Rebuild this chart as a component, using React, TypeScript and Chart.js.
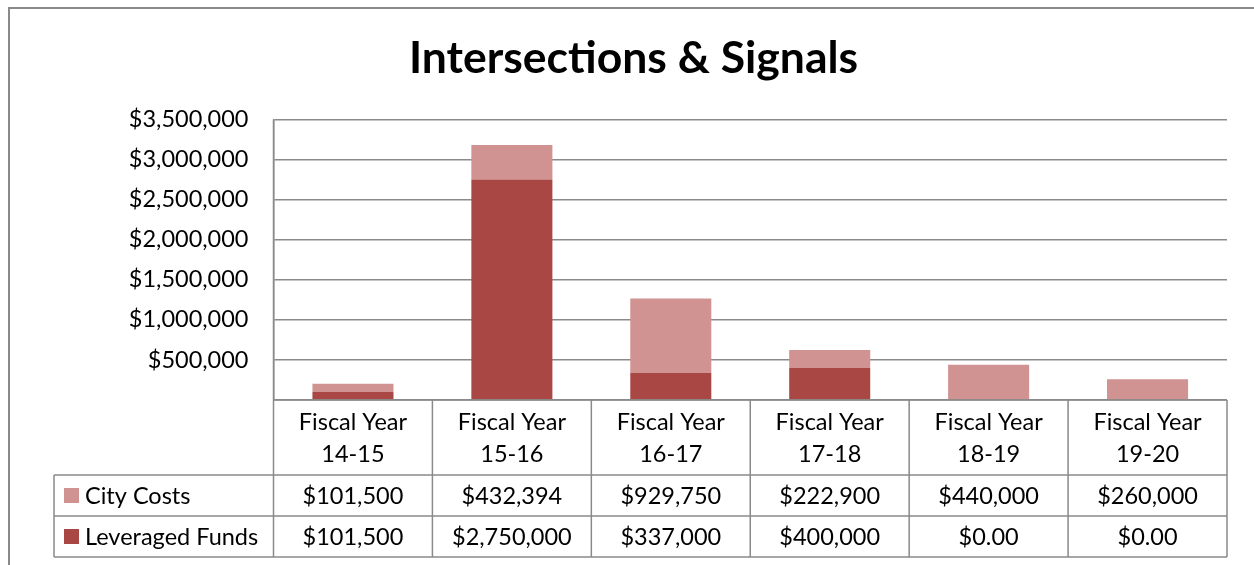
import React, { useEffect, useRef } from 'react';
import { Chart, registerables } from 'chart.js';

Chart.register(...registerables);

const chartTitle = 'Intersections & Signals';
const categoryLine1 = ['Fiscal Year', 'Fiscal Year', 'Fiscal Year', 'Fiscal Year', 'Fiscal Year', 'Fiscal Year'];
const categoryLine2 = ['14-15', '15-16', '16-17', '17-18', '18-19', '19-20'];
const seriesNames = ['City Costs', 'Leveraged Funds'];
const cityCosts = [101500, 432394, 929750, 222900, 440000, 260000];
const leveragedFunds = [101500, 2750000, 337000, 400000, 0, 0];
const yMax = 3500000;
const yStep = 500000;

const cityColor = 'rgb(209,146,146)';
const leveragedColor = 'rgb(169,71,69)';
const lineColor = '#8a8a8a';
const FONT = 'Lato';
const FONT_SIZE = 23.5;
const TITLE_SIZE = 44.5;

const fmtMoney = (v: number) =>
  v === 0 ? '$0.00' : '$' + v.toLocaleString('en-US');

const tablePlugin = {
  id: 'dataTable',
  afterDraw(chart: any) {
    const ctx = chart.ctx as CanvasRenderingContext2D;
    const ca = chart.chartArea;
    const n = categoryLine2.length;
    const colW = (ca.right - ca.left) / n;
    const headerLeft = 54;
    const row0Bottom = 475;
    const row1Bottom = 516;
    const row2Bottom = 557;
    ctx.save();
    // outer border
    ctx.strokeStyle = lineColor;
    ctx.lineWidth = 2;
    ctx.beginPath();
    ctx.moveTo(9, 565);
    ctx.lineTo(9, 8);
    ctx.lineTo(1254, 8);
    ctx.stroke();

    ctx.lineWidth = 1.5;
    ctx.beginPath();
    ctx.moveTo(ca.left, ca.bottom);
    ctx.lineTo(ca.right, ca.bottom);
    [row0Bottom, row1Bottom, row2Bottom].forEach((y) => {
      ctx.moveTo(headerLeft, y);
      ctx.lineTo(ca.right, y);
    });
    ctx.moveTo(headerLeft, row0Bottom);
    ctx.lineTo(headerLeft, row2Bottom);
    ctx.moveTo(ca.left, ca.top);
    ctx.lineTo(ca.left, row2Bottom);
    for (let i = 1; i <= n; i++) {
      const x = ca.left + i * colW;
      ctx.moveTo(x, ca.bottom);
      ctx.lineTo(x, row2Bottom);
    }
    ctx.stroke();

    ctx.fillStyle = '#000';
    ctx.font = `${FONT_SIZE}px ${FONT}`;
    ctx.textAlign = 'center';
    ctx.textBaseline = 'middle';
    for (let i = 0; i < n; i++) {
      const cx = ca.left + (i + 0.5) * colW;
      ctx.fillText(categoryLine1[i], cx, 422);
      ctx.fillText(categoryLine2[i], cx, 454);
      ctx.fillText(fmtMoney(cityCosts[i]), cx, (row0Bottom + row1Bottom) / 2 + 1);
      ctx.fillText(fmtMoney(leveragedFunds[i]), cx, (row1Bottom + row2Bottom) / 2 + 1);
    }
    const rows = [
      { name: seriesNames[0], color: cityColor, y: (row0Bottom + row1Bottom) / 2 },
      { name: seriesNames[1], color: leveragedColor, y: (row1Bottom + row2Bottom) / 2 },
    ];
    ctx.textAlign = 'left';
    rows.forEach((r) => {
      ctx.fillStyle = r.color;
      ctx.fillRect(64, r.y - 7.5, 15, 15);
      ctx.fillStyle = '#000';
      ctx.fillText(r.name, 85, r.y + 1);
    });
    ctx.restore();
  },
};

export default function App() {
  const ref = useRef<HTMLCanvasElement | null>(null);
  useEffect(() => {
    if (!ref.current) return;
    const chart = new Chart(ref.current, {
      type: 'bar',
      data: {
        labels: categoryLine2,
        datasets: [
          {
            label: seriesNames[1],
            data: leveragedFunds,
            backgroundColor: leveragedColor,
            categoryPercentage: 1,
            barPercentage: 0.51,
          },
          {
            label: seriesNames[0],
            data: cityCosts,
            backgroundColor: cityColor,
            categoryPercentage: 1,
            barPercentage: 0.51,
          },
        ],
      },
      options: {
        animation: false,
        responsive: false,
        layout: { padding: { left: 40, right: 27, top: 0, bottom: 165 } },
        plugins: {
          legend: { display: false },
          tooltip: { enabled: false },
          title: {
            display: true,
            text: chartTitle,
            color: '#000',
            font: { family: FONT, size: TITLE_SIZE, weight: 'bold' },
            padding: { top: 32, bottom: 34.1 },
          },
        },
        scales: {
          x: {
            stacked: true,
            display: false,
          },
          y: {
            stacked: true,
            min: 0,
            max: yMax,
            afterFit(scale: any) {
              scale.width = 233.5;
            },
            border: { display: true, color: lineColor, width: 1.5 },
            grid: { color: lineColor, lineWidth: 1.5, drawTicks: false },
            ticks: {
              stepSize: yStep,
              padding: 25,
              color: '#000',
              font: { family: FONT, size: FONT_SIZE },
              callback: (v: any) => (Number(v) === 0 ? '' : '$' + Number(v).toLocaleString('en-US')),
            },
          },
        },
      },
      plugins: [tablePlugin],
    });
    return () => chart.destroy();
  }, []);
  return (
    <div style={{ position: 'absolute', left: 0, top: 0, width: 1254, height: 565 }}>
      <canvas ref={ref} width={1254} height={565} style={{ width: 1254, height: 565 }} />
    </div>
  );
}
